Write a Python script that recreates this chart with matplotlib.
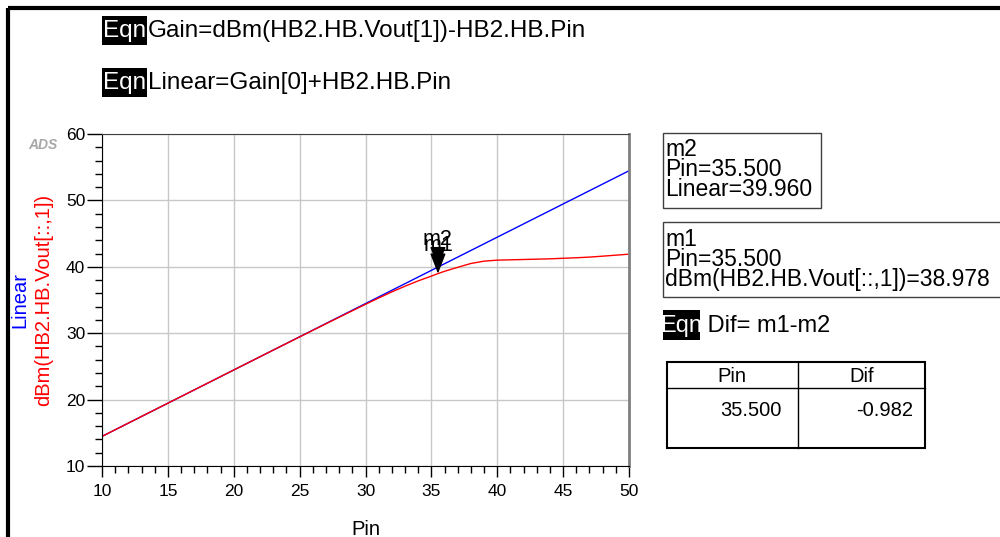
import matplotlib
matplotlib.use('Agg')
import matplotlib.pyplot as plt
from matplotlib.patches import Rectangle
from matplotlib.ticker import MultipleLocator

plt.rcParams['font.family'] = ['Liberation Sans', 'DejaVu Sans']

# Linear = Gain[0] + Pin  (straight line, two end points)
pin_lin = [10, 50]
linear = [14.46, 54.46]

# dBm(HB2.HB.Vout[::,1])
pin_out = [10, 11, 12, 13, 14, 15, 16, 17, 18, 19, 20, 21, 22, 23, 24, 25, 26, 27, 28, 29, 30,
           31, 32, 33, 34, 35, 35.5, 36, 37, 38, 39, 40, 41, 42, 43, 44, 45, 46, 47, 48, 49, 50]
vout = [14.46, 15.46, 16.46, 17.46, 18.46, 19.46, 20.46, 21.46, 22.46, 23.46, 24.46, 25.46,
        26.46, 27.46, 28.45, 29.44, 30.43, 31.42, 32.4, 33.38, 34.35,
        35.3, 36.22, 37.08, 37.88, 38.6, 38.978, 39.32, 39.92, 40.5, 40.85, 41.0, 41.05,
        41.1, 41.15, 41.2, 41.28, 41.36, 41.46, 41.6, 41.75, 41.9]

m_pin = 35.5
m2_val = 39.960
m1_val = 38.978
dif = -0.982

fig = plt.figure(figsize=(10, 5.37), dpi=100)

# overlay in pixel coords for the page furniture
ov = fig.add_axes([0, 0, 1, 1], zorder=0)
ov.set_xlim(0, 1000)
ov.set_ylim(537, 0)
ov.axis('off')

ov.plot([8, 1000], [8, 8], color='black', lw=3, solid_capstyle='butt')
ov.plot([8, 8], [8, 537], color='black', lw=3, solid_capstyle='butt')

def eqn(x0, y0, w, h, txt, fs=17.5):
    ov.add_patch(Rectangle((x0, y0), w, h, facecolor='black', edgecolor='none'))
    ov.text(x0 + w / 2, y0 + h / 2 + 1, 'Eqn', color='white', fontsize=fs, ha='center', va='center')
    ov.text(x0 + w + 1, y0 + h / 2 + 1, txt, color='black', fontsize=fs, ha='left', va='center')

eqn(102, 16, 45, 29, 'Gain=dBm(HB2.HB.Vout[1])-HB2.HB.Pin')
eqn(102, 68, 45, 29, 'Linear=Gain[0]+HB2.HB.Pin')
eqn(663, 310, 37, 30, ' Dif= m1-m2', fs=17)

ov.text(43, 145, 'ADS', color='#a8a8a8', fontsize=10, fontweight='bold', fontstyle='italic',
        ha='center', va='center')

# marker readouts
ov.add_patch(Rectangle((663, 133), 158, 75, facecolor='white', edgecolor='#404040', lw=1))
ov.text(665, 138, 'm2\nPin=35.500\nLinear=39.960', fontsize=16.5, ha='left', va='top',
        linespacing=0.82)
ov.add_patch(Rectangle((663, 222), 360, 75, facecolor='white', edgecolor='#404040', lw=1, clip_on=False))
ov.text(665, 228, 'm1\nPin=35.500\ndBm(HB2.HB.Vout[::,1])=38.978', fontsize=16.5, ha='left',
        va='top', linespacing=0.82)

# table
ov.add_patch(Rectangle((667, 362), 258, 86, facecolor='white', edgecolor='black', lw=1.5))
ov.plot([667, 925], [388, 388], color='black', lw=1)
ov.plot([798, 798], [362, 448], color='black', lw=1)
ov.text(732, 376, 'Pin', fontsize=14.5, ha='center', va='center')
ov.text(862, 376, 'Dif', fontsize=14.5, ha='center', va='center')
ov.text(782, 411, f'{m_pin:.3f}', fontsize=14.5, ha='right', va='center')
ov.text(913, 411, f'{dif:.3f}', fontsize=14.5, ha='right', va='center')

# main plot
ax = fig.add_axes([0.102, 0.1322, 0.527, 0.6183], zorder=1)
ax.plot(pin_lin, linear, color='blue', lw=1)
ax.plot(pin_out, vout, color='red', lw=1)

ax.set_xlim(10, 50)
ax.set_ylim(10, 60)
ax.xaxis.set_major_locator(MultipleLocator(5))
ax.xaxis.set_minor_locator(MultipleLocator(1))
ax.yaxis.set_major_locator(MultipleLocator(10))
ax.yaxis.set_minor_locator(MultipleLocator(2))
ax.grid(True, which='major', color='#c8c8c8', lw=1)
ax.set_axisbelow(True)
ax.tick_params(axis='y', which='major', length=11, width=1, labelsize=12.5, pad=1)
ax.tick_params(axis='y', which='minor', length=5, width=1)
ax.tick_params(axis='x', which='major', length=8, width=1, labelsize=12.5, pad=5)
ax.tick_params(axis='x', which='minor', length=5, width=1)
ax.spines['top'].set_color('#404040')
ax.spines['right'].set_color('#808080')
ax.spines['right'].set_linewidth(2)

ax.set_xlabel('Pin', fontsize=14.5, labelpad=15)
ax.text(-0.155, 0.5, 'Linear', color='blue', fontsize=14.5, rotation=90,
        ha='center', va='center', transform=ax.transAxes)
ax.text(-0.11, 0.5, 'dBm(HB2.HB.Vout[::,1])', color='red', fontsize=14.5, rotation=90,
        ha='center', va='center', transform=ax.transAxes)

arrow = dict(arrowstyle='-|>,head_length=0.9,head_width=0.35', color='black', lw=1,
             shrinkA=0, shrinkB=0, mutation_scale=14)
ax.annotate('m2', xy=(m_pin, m2_val), xytext=(0, 12), textcoords='offset points',
            ha='center', va='bottom', fontsize=15.5, arrowprops=arrow)
ax.annotate('m1', xy=(m_pin, m1_val), xytext=(0, 13), textcoords='offset points',
            ha='center', va='bottom', fontsize=15.5, arrowprops=arrow)

fig.savefig('out.png', dpi=100)
